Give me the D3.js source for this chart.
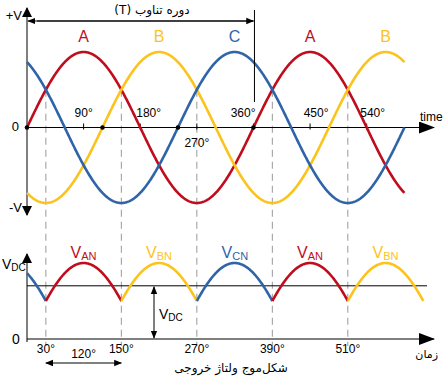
<!DOCTYPE html>
<html>
<head>
<meta charset="utf-8">
<script src="https://cdn.jsdelivr.net/npm/d3@7"></script>
<style>
  body { margin: 0; background: #fff; }
  text { font-family: "Liberation Sans", Arial, sans-serif; }
  .fa { font-family: "DejaVu Sans", sans-serif; }
</style>
</head>
<body>
<svg id="drawing_region"></svg>
<script>
// سه فاز: نام، اختلاف فاز (درجه)، رنگ
var phaseNames = ['A', 'B', 'C'];
var phaseShift = [0, -120, 120];
var phaseColors = ['#c00d1e', '#fcc31c', '#2f64a8'];

// برچسب حروف بالای قله‌ها
var peakLabels = [{name:'A', deg:90}, {name:'B', deg:210}, {name:'C', deg:330}, {name:'A', deg:450}, {name:'B', deg:570}];
var tickDegs = [90, 180, 270, 360, 450, 540];
var zeroDots = [0, 120, 240, 360];
var dashDegs = [30, 150, 270, 390, 510];

// شکل موج خروجی
var outSegments = [
  {from:0, to:30, phase:'C'},
  {from:30, to:150, phase:'A'},
  {from:150, to:270, phase:'B'},
  {from:270, to:390, phase:'C'},
  {from:390, to:510, phase:'A'},
  {from:510, to:630, phase:'B'}
];
var outLabels = [{sub:'AN', deg:90, phase:'A'}, {sub:'BN', deg:210, phase:'B'}, {sub:'CN', deg:330, phase:'C'}, {sub:'AN', deg:450, phase:'A'}, {sub:'BN', deg:570, phase:'B'}];
var outTicks = [30, 150, 270, 390, 510];
var vdcLevel = 0.7;

var W = 445, H = 376;
var svg = d3.select('#drawing_region').attr('width', W).attr('height', H);

var defs = svg.append('defs');
defs.append('marker').attr('id', 'ahs').attr('viewBox', '0 0 10 10')
  .attr('refX', 9).attr('refY', 5).attr('markerWidth', 8).attr('markerHeight', 8)
  .attr('markerUnits', 'userSpaceOnUse').attr('orient', 'auto-start-reverse')
  .append('path').attr('d', 'M0,1 L10,5 L0,9 Z').attr('fill', '#000');
defs.append('marker').attr('id', 'mid').attr('viewBox', '0 0 10 14')
  .attr('refX', 9).attr('refY', 7).attr('markerWidth', 10).attr('markerHeight', 14)
  .attr('markerUnits', 'userSpaceOnUse').attr('orient', 'auto-start-reverse')
  .append('path').attr('d', 'M0,2 L10,7 L0,12 Z').attr('fill', '#000');
defs.append('marker').attr('id', 'big').attr('viewBox', '0 0 16 12')
  .attr('refX', 15).attr('refY', 6).attr('markerWidth', 16).attr('markerHeight', 12)
  .attr('markerUnits', 'userSpaceOnUse').attr('orient', 'auto-start-reverse')
  .append('path').attr('d', 'M0,0 L16,6 L0,12 Z').attr('fill', '#000');

var x = d3.scaleLinear().domain([0, 630]).range([27, 423.3]);
var yTop = d3.scaleLinear().domain([-1, 1]).range([203, 52]);
var yBot = d3.scaleLinear().domain([0, 1]).range([339, 263]);

function val(ph, deg) {
  var i = phaseNames.indexOf(ph);
  return Math.sin((deg + phaseShift[i]) * Math.PI / 180);
}
function color(ph) { return phaseColors[phaseNames.indexOf(ph)]; }

// خطوط خط‌چین عمودی
svg.selectAll('.dash').data(dashDegs).enter().append('line')
  .attr('x1', d => x(d)).attr('x2', d => x(d))
  .attr('y1', yTop(0.5)).attr('y2', 346)
  .attr('stroke', '#999').attr('stroke-width', 1).attr('stroke-dasharray', '7,5');

// محورهای بالا
svg.append('line').attr('x1', x(0)).attr('x2', 434).attr('y1', yTop(0)).attr('y2', yTop(0))
  .attr('stroke', '#000').attr('marker-end', 'url(#big)');
svg.append('line').attr('x1', x(0)).attr('x2', x(0)).attr('y1', yTop(0)).attr('y2', 8)
  .attr('stroke', '#000').attr('marker-end', 'url(#mid)');
svg.append('line').attr('x1', x(0)).attr('x2', x(0)).attr('y1', yTop(0)).attr('y2', 215)
  .attr('stroke', '#000').attr('marker-end', 'url(#mid)');

svg.selectAll('.tk').data(tickDegs).enter().append('line')
  .attr('x1', d => x(d)).attr('x2', d => x(d))
  .attr('y1', yTop(0) - 4).attr('y2', yTop(0) + 2)
  .attr('stroke', '#000');

// منحنی‌ها
var degs = d3.range(0, 600.5, 1);
phaseNames.forEach(function(ph) {
  svg.append('path')
    .attr('d', d3.line().x(d => x(d)).y(d => yTop(val(ph, d)))(degs))
    .attr('fill', 'none').attr('stroke', color(ph)).attr('stroke-width', 2.6);
});

svg.selectAll('.dot').data(zeroDots).enter().append('circle')
  .attr('cx', d => x(d)).attr('cy', yTop(0)).attr('r', 2.3).attr('fill', '#000');

svg.selectAll('.pk').data(peakLabels).enter().append('text')
  .attr('x', d => x(d.deg)).attr('y', 42).attr('text-anchor', 'middle')
  .attr('font-size', 16).attr('fill', d => color(d.name)).text(d => d.name);

svg.selectAll('.tl').data(tickDegs).enter().append('text')
  .attr('x', d => d === 270 ? x(d) : x(d) - (d >= 180 ? -6 : 0))
  .attr('y', d => d === 270 ? 147 : 117)
  .attr('text-anchor', d => d === 180 ? 'start' : (d === 360 ? 'end' : 'middle'))
  .attr('dx', d => d === 180 ? -10 : (d === 360 ? -4 : 0))
  .attr('font-size', 12).attr('fill', '#000').text(d => d + '°');

svg.append('text').attr('x', 22).attr('y', 20).attr('text-anchor', 'end').attr('font-size', 13).text('+V');
svg.append('text').attr('x', 19).attr('y', 131).attr('text-anchor', 'end').attr('font-size', 13).text('0');
svg.append('text').attr('x', 22).attr('y', 212).attr('text-anchor', 'end').attr('font-size', 13).text('-V');
svg.append('text').attr('x', 420).attr('y', 121).attr('font-family', '"Liberation Serif", serif')
  .attr('font-size', 12).text('time');

// دوره تناوب
svg.append('line').attr('x1', x(360)).attr('x2', x(0) + 1).attr('y1', 21).attr('y2', 21)
  .attr('stroke', '#000').attr('marker-end', 'url(#ahs)');
svg.append('line').attr('x1', x(0) + 10).attr('x2', x(360)).attr('y1', 21).attr('y2', 21)
  .attr('stroke', '#000').attr('marker-end', 'url(#ahs)');
svg.append('line').attr('x1', x(360) + 1).attr('x2', x(360) + 1).attr('y1', 10).attr('y2', 102)
  .attr('stroke', '#000');
svg.append('text').attr('class', 'fa').attr('x', 152).attr('y', 14).attr('text-anchor', 'middle')
  .attr('direction', 'rtl').attr('font-size', 12).text('دوره تناوب (T)');

// نمودار پایین
svg.append('line').attr('x1', x(0)).attr('x2', 434).attr('y1', yBot(0)).attr('y2', yBot(0))
  .attr('stroke', '#000').attr('marker-end', 'url(#big)');
svg.append('line').attr('x1', x(0)).attr('x2', x(0)).attr('y1', yBot(0) + 3).attr('y2', 254)
  .attr('stroke', '#000').attr('marker-end', 'url(#mid)');
svg.append('line').attr('x1', x(0)).attr('x2', 427).attr('y1', yBot(vdcLevel)).attr('y2', yBot(vdcLevel))
  .attr('stroke', '#000');

outSegments.forEach(function(s) {
  svg.append('path')
    .attr('d', d3.line().x(d => x(d)).y(d => yBot(val(s.phase, d)))(d3.range(s.from, s.to + 0.5, 1)))
    .attr('fill', 'none').attr('stroke', color(s.phase)).attr('stroke-width', 2.6);
});

var ol = svg.selectAll('.ol').data(outLabels).enter().append('text')
  .attr('x', d => x(d.deg) - 13).attr('y', 258)
  .attr('font-size', 16).attr('fill', d => color(d.phase));
ol.append('tspan').text('V');
ol.append('tspan').attr('font-size', 11).attr('dy', 2).text(d => d.sub);

svg.selectAll('.ot').data(outTicks).enter().append('text')
  .attr('x', d => x(d)).attr('y', 353).attr('text-anchor', 'middle')
  .attr('font-size', 12).text(d => d + '°');

var v1 = svg.append('text').attr('x', 2).attr('y', 269).attr('font-size', 14);
v1.append('tspan').text('V');
v1.append('tspan').attr('font-size', 10).attr('dy', 2).text('DC');
svg.append('text').attr('x', 12).attr('y', 344).attr('font-size', 14).text('0');

// پیکان VDC
svg.append('line').attr('x1', 154).attr('x2', 154).attr('y1', 313).attr('y2', yBot(vdcLevel) + 1)
  .attr('stroke', '#000').attr('marker-end', 'url(#ahs)');
svg.append('line').attr('x1', 154).attr('x2', 154).attr('y1', 313).attr('y2', yBot(0) - 1)
  .attr('stroke', '#000').attr('marker-end', 'url(#ahs)');
var v2 = svg.append('text').attr('x', 159).attr('y', 319).attr('font-size', 14);
v2.append('tspan').text('V');
v2.append('tspan').attr('font-size', 10).attr('dy', 2).text('DC');

// 120 درجه
svg.append('line').attr('x1', (x(30) + x(150)) / 2).attr('x2', x(30)).attr('y1', 363).attr('y2', 363)
  .attr('stroke', '#000').attr('marker-end', 'url(#ahs)');
svg.append('line').attr('x1', (x(30) + x(150)) / 2).attr('x2', x(150)).attr('y1', 363).attr('y2', 363)
  .attr('stroke', '#000').attr('marker-end', 'url(#ahs)');
svg.append('text').attr('x', (x(30) + x(150)) / 2).attr('y', 358).attr('text-anchor', 'middle')
  .attr('font-size', 12).text('120°');

svg.append('text').attr('class', 'fa').attr('x', 231).attr('y', 372).attr('text-anchor', 'middle')
  .attr('font-size', 12).text('شکل‌موج ولتاژ خروجی');
svg.append('text').attr('class', 'fa').attr('x', 438).attr('y', 358).attr('text-anchor', 'end')
  .attr('font-size', 11).text('زمان');
</script>
</body>
</html>
